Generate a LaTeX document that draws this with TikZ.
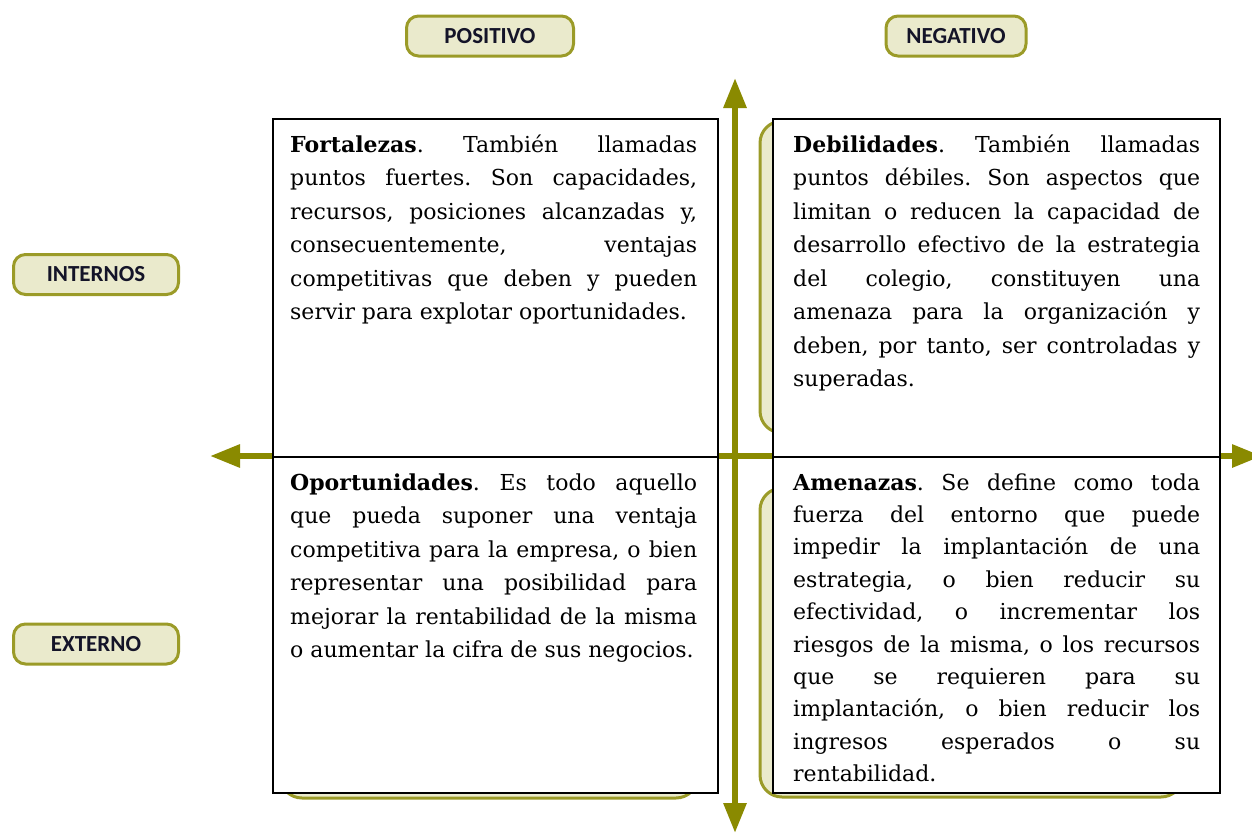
\documentclass[tikz,border=0pt]{standalone}
\usepackage{fontspec}
\setmainfont{DejaVu Serif}
\newfontfamily\labelfont{Carlito}
\usetikzlibrary{arrows.meta}
\definecolor{axisolive}{RGB}{138,138,0}
\definecolor{lblborder}{RGB}{155,155,40}
\definecolor{lblfill}{RGB}{234,234,204}
\definecolor{lbltext}{RGB}{20,20,40}
\hyphenpenalty=10000
\exhyphenpenalty=10000
\frenchspacing
\tikzset{
  axisline/.style={draw=axisolive, line width=6pt,
    {Triangle[width=22pt,length=30pt]}-{Triangle[width=22pt,length=30pt]}},
  lbl/.style={draw=lblborder, fill=lblfill, line width=3pt, rounded corners=12pt,
    minimum height=40pt, inner sep=0pt, text=lbltext,
    font=\labelfont\bfseries\fontsize{23}{27}\selectfont},
  bgshape/.style={draw=lblborder, fill=lblfill, line width=3pt, rounded corners=22pt},
  quad/.style={draw=black, line width=1.8pt, fill=white, inner sep=0pt, anchor=north west},
  body/.style={anchor=base west, inner sep=0pt, text width=407pt, align=justify,
    font=\fontsize{22}{33.5}\selectfont},
  bodytight/.style={body, font=\fontsize{22}{32.4}\selectfont}
}
\begin{document}
\begin{tikzpicture}[x=1pt,y=-1pt]
\useasboundingbox (0,0) rectangle (1252,835);
% background rounded shapes (partly hidden)
\draw[bgshape] (760,121) rectangle (1200,433);
\draw[bgshape] (760,488) rectangle (1183,797);
\draw[bgshape] (280,488) rectangle (698,798);
% axes
\coordinate (vtop) at (735,78);
\coordinate (vbot) at (735,833);
\coordinate (hleft) at (210,456);
\coordinate (hright) at (1262,456);
\draw[axisline] (vbot) -- (vtop);
\draw[axisline] (hleft) -- (hright);
% boxes
\node[quad, minimum width=445pt, minimum height=338pt] (fort) at (272,118) {};
\node[quad, minimum width=447pt, minimum height=338pt] (debi) at (772,118) {};
\node[quad, minimum width=445pt, minimum height=336pt] (opor) at (272,456) {};
\node[quad, minimum width=447pt, minimum height=336pt] (amen) at (772,456) {};
% texts
\node[body] (fortt) at (290,152) {\textbf{Fortalezas}. También llamadas\linebreak
puntos fuertes. Son capacidades,\linebreak
recursos, posiciones alcanzadas y,\linebreak
consecuentemente, ventajas\linebreak
competitivas que deben y pueden\linebreak
servir para explotar oportunidades.};
\node[body] (debit) at (793,152) {\textbf{Debilidades}. También llamadas\linebreak
puntos débiles. Son aspectos que\linebreak
limitan o reducen la capacidad de\linebreak
desarrollo efectivo de la estrategia\linebreak
del colegio, constituyen una\linebreak
amenaza para la organización y\linebreak
deben, por tanto, ser controladas y\linebreak
superadas.};
\node[body] (oport) at (290,490) {\textbf{Oportunidades}. Es todo aquello\linebreak
que pueda suponer una ventaja\linebreak
competitiva para la empresa, o bien\linebreak
representar una posibilidad para\linebreak
mejorar la rentabilidad de la misma\linebreak
o aumentar la cifra de sus negocios.};
\node[bodytight] (ament) at (793,490) {\textbf{Amenazas}. Se define como toda\linebreak
fuerza del entorno que puede\linebreak
impedir la implantación de una\linebreak
estrategia, o bien reducir su\linebreak
efectividad, o incrementar los\linebreak
riesgos de la misma, o los recursos\linebreak
que se requieren para su\linebreak
implantación, o bien reducir los\linebreak
ingresos esperados o su\linebreak
rentabilidad.};
% labels
\node[lbl, minimum width=167pt] (pos) at (490,36) {POSITIVO};
\node[lbl, minimum width=140pt] (neg) at (956,36) {NEGATIVO};
\node[lbl, minimum width=165pt] (int) at (96,274.5) {INTERNOS};
\node[lbl, minimum width=165pt] (ext) at (96,644) {EXTERNO};
\end{tikzpicture}
\end{document}
